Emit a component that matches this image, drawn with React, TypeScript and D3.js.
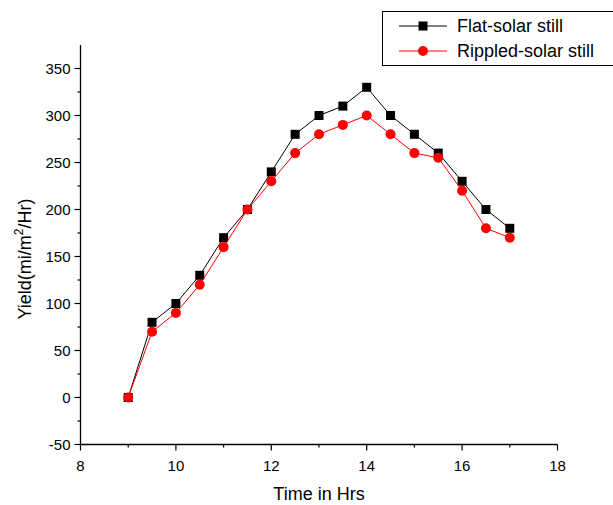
import * as d3 from 'd3';
import React from 'react';

// Yield vs time of day for the two stills
const hours = [9, 9.5, 10, 10.5, 11, 11.5, 12, 12.5, 13, 13.5, 14, 14.5, 15, 15.5, 16, 16.5, 17];
const flatYield = [0, 80, 100, 130, 170, 200, 240, 280, 300, 310, 330, 300, 280, 260, 230, 200, 180];
const rippledYield = [0, 70, 90, 120, 160, 200, 230, 260, 280, 290, 300, 280, 260, 255, 220, 180, 170];
const xTicks = [8, 10, 12, 14, 16, 18];
const yTicks = [-50, 0, 50, 100, 150, 200, 250, 300, 350];

const params = {
  width: 613,
  height: 505,
  left: 80.5,
  right: 557.5,
  top: 45,
  bottom: 444.5,
  font: 'Arial, "Liberation Sans", sans-serif',
};

const App = () => {
  const x = d3.scaleLinear().domain([8, 18]).range([params.left, params.right]);
  const y = d3.scaleLinear().domain([-50, 375]).range([params.bottom, params.top]);

  const line = d3.line<number>()
    .x((d, i) => x(hours[i]))
    .y(d => y(d));

  const xMinor = d3.range(9, 18, 2);
  const yMinor = d3.range(-25, 375, 50);

  return (
    <svg width={params.width} height={params.height}
      style={{ position: 'absolute', left: 0, top: 0, background: '#fff' }}
      fontFamily={params.font}>
      {/* axes */}
      <line x1={params.left} x2={params.left} y1={params.top} y2={params.bottom} stroke="#000" strokeWidth={1.3} />
      <line x1={params.left} x2={params.right} y1={params.bottom} y2={params.bottom} stroke="#000" strokeWidth={1.3} />
      {yTicks.map(t => (
        <g key={'y' + t}>
          <line x1={params.left - 6} x2={params.left} y1={y(t)} y2={y(t)} stroke="#000" strokeWidth={1.2} />
          <text x={params.left - 10} y={y(t) + 5} textAnchor="end" fontSize={15}>{t}</text>
        </g>
      ))}
      {yMinor.map(t => (
        <line key={'ym' + t} x1={params.left - 3} x2={params.left} y1={y(t)} y2={y(t)} stroke="#000" strokeWidth={1.2} />
      ))}
      {xTicks.map(t => (
        <g key={'x' + t}>
          <line x1={x(t)} x2={x(t)} y1={params.bottom} y2={params.bottom + 6} stroke="#000" strokeWidth={1.2} />
          <text x={x(t)} y={params.bottom + 26} textAnchor="middle" fontSize={15}>{t}</text>
        </g>
      ))}
      {xMinor.map(t => (
        <line key={'xm' + t} x1={x(t)} x2={x(t)} y1={params.bottom} y2={params.bottom + 3} stroke="#000" strokeWidth={1.2} />
      ))}
      <text x={(params.left + params.right) / 2} y={500} textAnchor="middle" fontSize={18}>Time in Hrs</text>
      <text transform={`translate(31,259) rotate(-90)`} textAnchor="middle" fontSize={18}>
        Yield(mi/m<tspan dy={-8} fontSize={12}>2</tspan><tspan dy={8}>/Hr)</tspan>
      </text>

      {/* series */}
      <path d={line(flatYield) || ''} fill="none" stroke="#000" strokeWidth={1} />
      {flatYield.map((d, i) => (
        <rect key={'f' + i} x={x(hours[i]) - 4.5} y={y(d) - 4.5} width={9} height={9} fill="#000" />
      ))}
      <path d={line(rippledYield) || ''} fill="none" stroke="#ff0000" strokeWidth={1} />
      {rippledYield.map((d, i) => (
        <circle key={'r' + i} cx={x(hours[i])} cy={y(d)} r={5} fill="#ff0000" />
      ))}

      {/* legend */}
      <rect x={382.5} y={11.5} width={240} height={54} fill="#fff" stroke="#000" strokeWidth={1} />
      <line x1={399} x2={447} y1={26} y2={26} stroke="#000" />
      <rect x={418.5} y={21.5} width={9} height={9} fill="#000" />
      <text x={457} y={32} fontSize={18}>Flat-solar still</text>
      <line x1={399} x2={447} y1={51} y2={51} stroke="#ff0000" />
      <circle cx={423} cy={51} r={5} fill="#ff0000" />
      <text x={457} y={57} fontSize={18}>Rippled-solar still</text>
    </svg>
  );
};

export default App;
